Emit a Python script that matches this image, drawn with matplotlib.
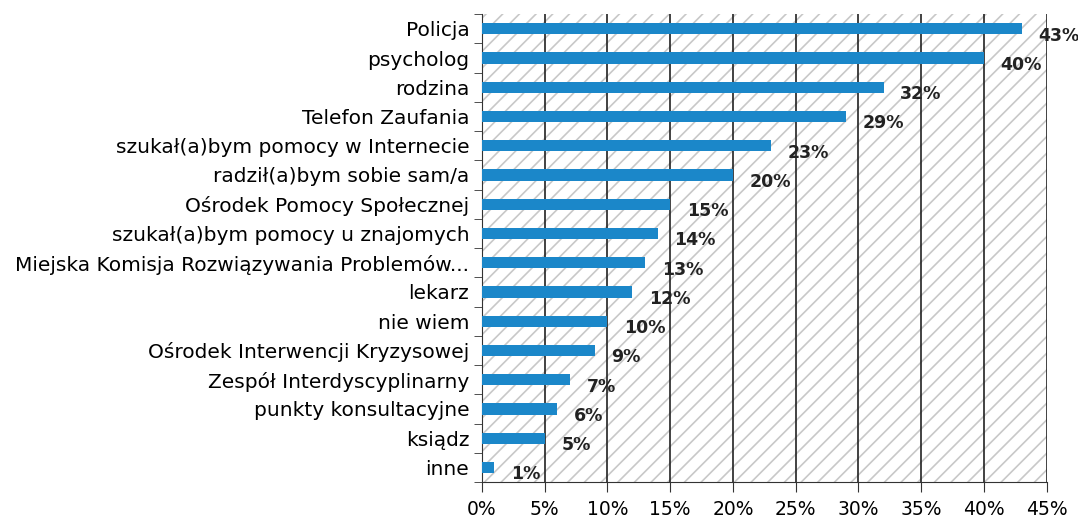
import matplotlib
matplotlib.use("Agg")
import matplotlib.pyplot as plt
import matplotlib.patches as mpatches
from matplotlib.ticker import MultipleLocator, FuncFormatter

# Gdzie szukał(a)byś pomocy - odpowiedzi w procentach
categories = [
    "Policja",
    "psycholog",
    "rodzina",
    "Telefon Zaufania",
    "szukał(a)bym pomocy w Internecie",
    "radził(a)bym sobie sam/a",
    "Ośrodek Pomocy Społecznej",
    "szukał(a)bym pomocy u znajomych",
    "Miejska Komisja Rozwiązywania Problemów...",
    "lekarz",
    "nie wiem",
    "Ośrodek Interwencji Kryzysowej",
    "Zespół Interdyscyplinarny",
    "punkty konsultacyjne",
    "ksiądz",
    "inne",
]
values = [43, 40, 32, 29, 23, 20, 15, 14, 13, 12, 10, 9, 7, 6, 5, 1]

bar_color = "#1b87c9"

plt.rcParams["hatch.linewidth"] = 1.2

fig = plt.figure(figsize=(10.78, 5.24), dpi=100)
ax = fig.add_axes([0.447, 0.080, 0.524, 0.893])

n = len(categories)
ypos = list(range(n))

# kreskowane tło obszaru wykresu
ax.add_patch(mpatches.Rectangle((0, -0.5), 45, n, facecolor="white",
                                edgecolor="#c8c8c8", hatch="//", lw=0, zorder=0))

ax.barh(ypos, values, height=0.38, color=bar_color, zorder=3)

for y, v in zip(ypos, values):
    ax.annotate(f"{v}%", (v, y), xytext=(12, -5), textcoords="offset points",
                ha="left", va="center", fontsize=12.5, fontweight="bold",
                color="#222222", zorder=4)

ax.set_xlim(0, 45)
ax.set_ylim(n - 0.5, -0.5)
ax.xaxis.set_major_locator(MultipleLocator(5))
ax.xaxis.set_major_formatter(FuncFormatter(lambda x, _: f"{x:.0f}%"))
ax.grid(axis="x", color="#222222", lw=1.2, zorder=1)

ax.set_yticks(ypos)
ax.set_yticklabels(categories, fontsize=14.5)
ax.set_yticks([i + 0.5 for i in range(-1, n)], minor=True)
ax.tick_params(axis="y", which="major", length=0, pad=9)
ax.tick_params(axis="y", which="minor", length=6, color="#333333")
ax.tick_params(axis="x", length=7, color="#333333", labelsize=13.5, pad=6)

for side in ("top", "right"):
    ax.spines[side].set_visible(False)
for side in ("left", "bottom"):
    ax.spines[side].set_color("#333333")

fig.savefig("out.png", dpi=100)
